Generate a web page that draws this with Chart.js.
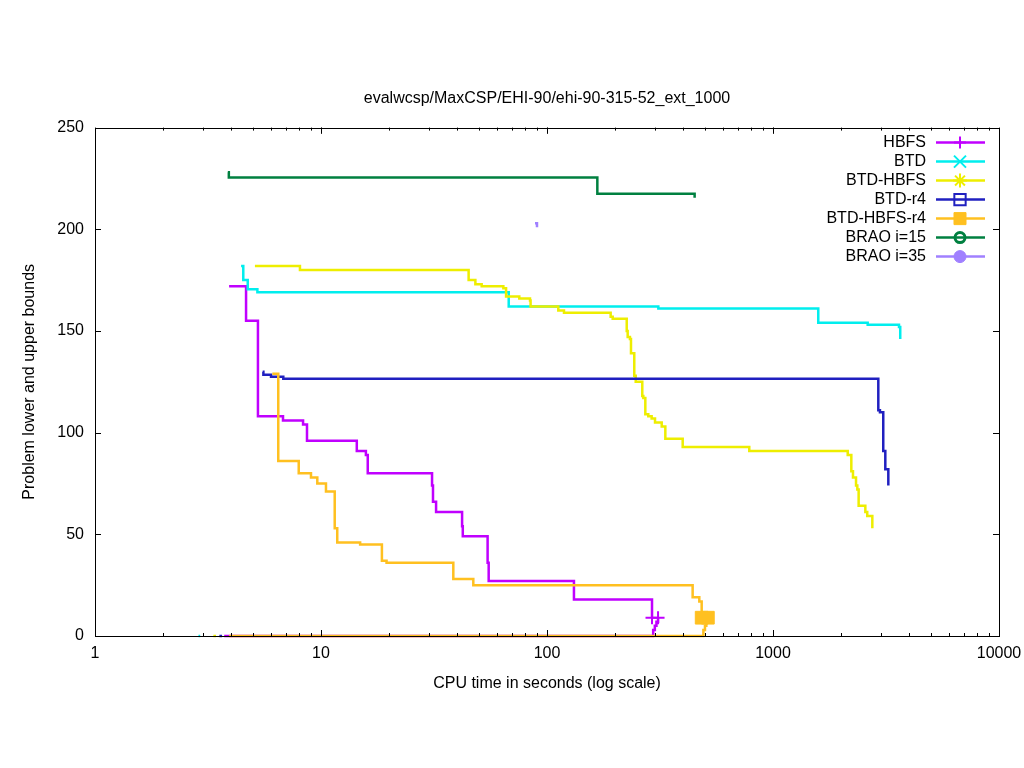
<!DOCTYPE html>
<html>
<head>
<meta charset="utf-8">
<script src="https://cdn.jsdelivr.net/npm/chart.js"></script>
<style>
  html, body { margin: 0; padding: 0; background: #fff; }
  #wrap { width: 1024px; height: 768px; }
</style>
</head>
<body>
<div id="wrap"><canvas id="c" width="1024" height="768"></canvas></div>
<script>
// key entries, in plot order
const names = ['HBFS', 'BTD', 'BTD-HBFS', 'BTD-r4', 'BTD-HBFS-r4', 'BRAO i=15', 'BRAO i=35'];

// axis ticks
const xTicks = [1, 10, 100, 1000, 10000];
const yTicks = [0, 50, 100, 150, 200, 250];

// upper bound: time (s) where the bound changes, and its new value
const hbfsUpT = [3.92, 4.66, 5.26, 6.79, 8.33, 8.67, 14.4, 15.8, 16.1, 31.0, 31.3, 32.3, 42.1, 42.4, 54.6, 55.2, 131.6, 291.5];
const hbfsUpV = [172, 155, 108, 106, 104, 96, 91, 89, 80, 74, 66, 61, 54, 49, 36, 27, 18, 9];
const hbfsLoT = [3.73, 291.5, 295, 300, 305, 310];
const hbfsLoV = [0, 0, 3, 5, 7, 9];

const btdUpT = [4.43, 4.53, 4.74, 5.23, 67.7, 310.9, 1586, 2624, 3610, 3656];
const btdUpV = [182, 175, 170.5, 169, 162, 161, 154, 153, 152, 146];
const btdLoT = [2.87, 2.92];
const btdLoV = [0, 0];

const btdHbfsUpT = [5.1, 8.07, 45.0, 48.2, 51.4, 64.1, 65.9, 75.4, 84.1, 84.6, 112.2, 118.9, 191.3, 195.3, 225.3, 227.5, 232.8, 235.3, 243.3, 246.9,
  264, 266.8, 272.3, 280.7, 290.4, 300.6, 321.8, 333.9, 398.5, 785.3, 2141, 2221, 2259, 2330, 2361, 2393, 2562, 2612, 2751];
const btdHbfsUpV = [182, 180, 175, 173, 172, 171, 167, 166, 165, 162, 160, 159, 157, 156, 150, 147, 146, 139, 128, 125,
  118, 117, 109, 108, 107, 105, 103, 97, 93, 91, 89, 81, 78, 74, 72, 64, 61, 59, 53];
const btdHbfsLoT = [3.34, 3.43];
const btdHbfsLoV = [0, 0];

const btdR4UpT = [5.52, 5.56, 6.01, 6.81, 2924, 2973, 3075, 3140, 3238];
const btdR4UpV = [130, 128.5, 127.5, 126.5, 111, 110, 91, 82, 74];
const btdR4LoT = [3.55, 3.65];
const btdR4LoV = [0, 0];

const btdHbfsR4UpT = [6.09, 6.47, 7.97, 9.03, 9.63, 10.52, 11.5, 11.8, 14.9, 18.6, 19.5, 38.5, 47.2, 441, 472, 483.5];
const btdHbfsR4UpV = [129, 86, 80, 78, 75, 71, 53, 46, 45, 37, 36, 28, 25, 19, 17, 9];
const btdHbfsR4LoT = [3.92, 485, 492, 500, 507, 515];
const btdHbfsR4LoV = [0, 0, 3, 5, 7, 9];

const brao15UpT = [3.87, 3.91, 167, 450];
const brao15UpV = [228, 225.5, 217.5, 215.5];

const brao35UpT = [88.5, 90.3];
const brao35UpV = [203, 201];

// styles
const colors = ['#c000ff', '#00eeee', '#eeee00', '#2020c0', '#ffc020', '#008040', '#a080ff'];
const marks = [
  { style: 'cross', r: 6, fill: false, bw: 2 },
  { style: 'crossRot', r: 8.5, fill: false, bw: 2 },
  { style: 'star', r: 7, fill: false, bw: 2 },
  { style: 'rect', r: 8, fill: false, bw: 2 },
  { style: 'rect', r: 8.5, fill: true, bw: 1 },
  { style: 'circle', r: 5, fill: false, bw: 3 },
  { style: 'circle', r: 6, fill: true, bw: 1 },
];
const font = { family: '"Liberation Sans", Arial, sans-serif', size: 16 };
const lineW = 2.5;

const pts = (t, v) => t.map((x, i) => ({ x, y: v[i] }));

// [upper, lower, solved (marker at the ends)]
const runs = [
  [pts(hbfsUpT, hbfsUpV), pts(hbfsLoT, hbfsLoV), true],
  [pts(btdUpT, btdUpV), pts(btdLoT, btdLoV), false],
  [pts(btdHbfsUpT, btdHbfsUpV), pts(btdHbfsLoT, btdHbfsLoV), false],
  [pts(btdR4UpT, btdR4UpV), pts(btdR4LoT, btdR4LoV), false],
  [pts(btdHbfsR4UpT, btdHbfsR4UpV), pts(btdHbfsR4LoT, btdHbfsR4LoV), true],
  [pts(brao15UpT, brao15UpV), [], false],
  [pts(brao35UpT, brao35UpV), [], false],
];

const datasets = [];
runs.forEach(([up, lo, solved], i) => {
  const m = marks[i];
  for (const data of [lo, up]) {
    if (!data.length) continue;
    datasets.push({
      label: names[i],
      data,
      borderColor: colors[i],
      borderWidth: lineW,
      stepped: true,
      fill: false,
      clip: false,
      pointStyle: m.style,
      pointRadius: solved ? (ctx) => (ctx.dataIndex === ctx.dataset.data.length - 1 ? m.r + 0.5 : 0) : 0,
      pointBorderColor: colors[i],
      pointBackgroundColor: m.fill ? colors[i] : 'rgba(0,0,0,0)',
      pointBorderWidth: m.bw,
      order: -i,
    });
  }
});

// border box and inward ticks, drawn over the data like gnuplot does
const frame = {
  id: 'frame',
  afterDatasetsDraw(chart) {
    const { ctx, chartArea: a, scales: { x, y } } = chart;
    ctx.save();
    ctx.strokeStyle = '#000';
    ctx.lineWidth = 1;
    ctx.beginPath();
    for (const v of yTicks) {
      const py = Math.round(y.getPixelForValue(v)) + 0.5;
      ctx.moveTo(a.left, py); ctx.lineTo(a.left + 6, py);
      ctx.moveTo(a.right, py); ctx.lineTo(a.right - 6, py);
    }
    for (let d = 1; d < 10000; d *= 10) {
      for (let k = 1; k <= 10; k++) {
        const len = (k === 1 || k === 10) ? 6 : 3;
        const px = Math.round(x.getPixelForValue(d * k)) + 0.5;
        ctx.moveTo(px, a.bottom); ctx.lineTo(px, a.bottom - len);
        ctx.moveTo(px, a.top); ctx.lineTo(px, a.top + len);
      }
    }
    ctx.stroke();
    ctx.strokeRect(Math.round(a.left) + 0.5, Math.round(a.top) + 0.5, Math.round(a.right - a.left), Math.round(a.bottom - a.top));
    ctx.restore();
  }
};

// gnuplot-style key in the top right corner
const key = {
  id: 'key',
  afterDraw(chart) {
    const { ctx, chartArea: a } = chart;
    ctx.save();
    ctx.font = font.size + 'px ' + font.family;
    ctx.textAlign = 'right';
    ctx.textBaseline = 'middle';
    names.forEach((n, i) => {
      const yy = a.top + 15 + i * 19;
      ctx.fillStyle = '#000';
      ctx.fillText(n, a.right - 73, yy);
      ctx.strokeStyle = colors[i];
      ctx.lineWidth = lineW;
      ctx.beginPath();
      ctx.moveTo(a.right - 63, yy);
      ctx.lineTo(a.right - 14, yy);
      ctx.stroke();
      const m = marks[i];
      ctx.fillStyle = m.fill ? colors[i] : 'rgba(0,0,0,0)';
      ctx.lineWidth = m.bw;
      Chart.helpers.drawPoint(ctx, { pointStyle: m.style, radius: m.r, rotation: 0, borderWidth: m.bw }, a.right - 39, yy);
    });
    ctx.restore();
  }
};

new Chart(document.getElementById('c'), {
  type: 'line',
  data: { datasets },
  options: {
    responsive: false,
    animation: false,
    devicePixelRatio: 1,
    events: [],
    layout: { padding: { left: 0, right: 25, top: 0, bottom: 0 } },
    plugins: {
      legend: { display: false },
      tooltip: { enabled: false },
      title: {
        display: true,
        text: 'evalwcsp/MaxCSP/EHI-90/ehi-90-315-52_ext_1000',
        color: '#000',
        font: { ...font, weight: 'normal' },
        fullSize: false,
        padding: { top: 89, bottom: 19.4 },
      },
    },
    scales: {
      x: {
        type: 'logarithmic',
        min: 1,
        max: 10000,
        afterBuildTicks: (s) => { s.ticks = xTicks.map((v) => ({ value: v })); },
        afterFit: (s) => { s.height = 132; s.paddingLeft = 0; s.paddingRight = 0; },
        ticks: { callback: (v) => String(v), autoSkip: false, maxRotation: 0, padding: 8, color: '#000', font },
        grid: { display: false, drawTicks: false },
        border: { display: false },
        title: { display: true, text: 'CPU time in seconds (log scale)', color: '#000', font, padding: { top: 0, bottom: 75 } },
      },
      y: {
        type: 'linear',
        min: 0,
        max: 250,
        afterBuildTicks: (s) => { s.ticks = yTicks.map((v) => ({ value: v })); },
        afterFit: (s) => { s.width = 95; s.paddingTop = 0; s.paddingBottom = 0; },
        ticks: { padding: 11, color: '#000', font },
        grid: { display: false, drawTicks: false },
        border: { display: false },
        title: { display: true, text: 'Problem lower and upper bounds', color: '#000', font, padding: { top: 20, bottom: 0 } },
      },
    },
  },
  plugins: [frame, key],
});
</script>
</body>
</html>
